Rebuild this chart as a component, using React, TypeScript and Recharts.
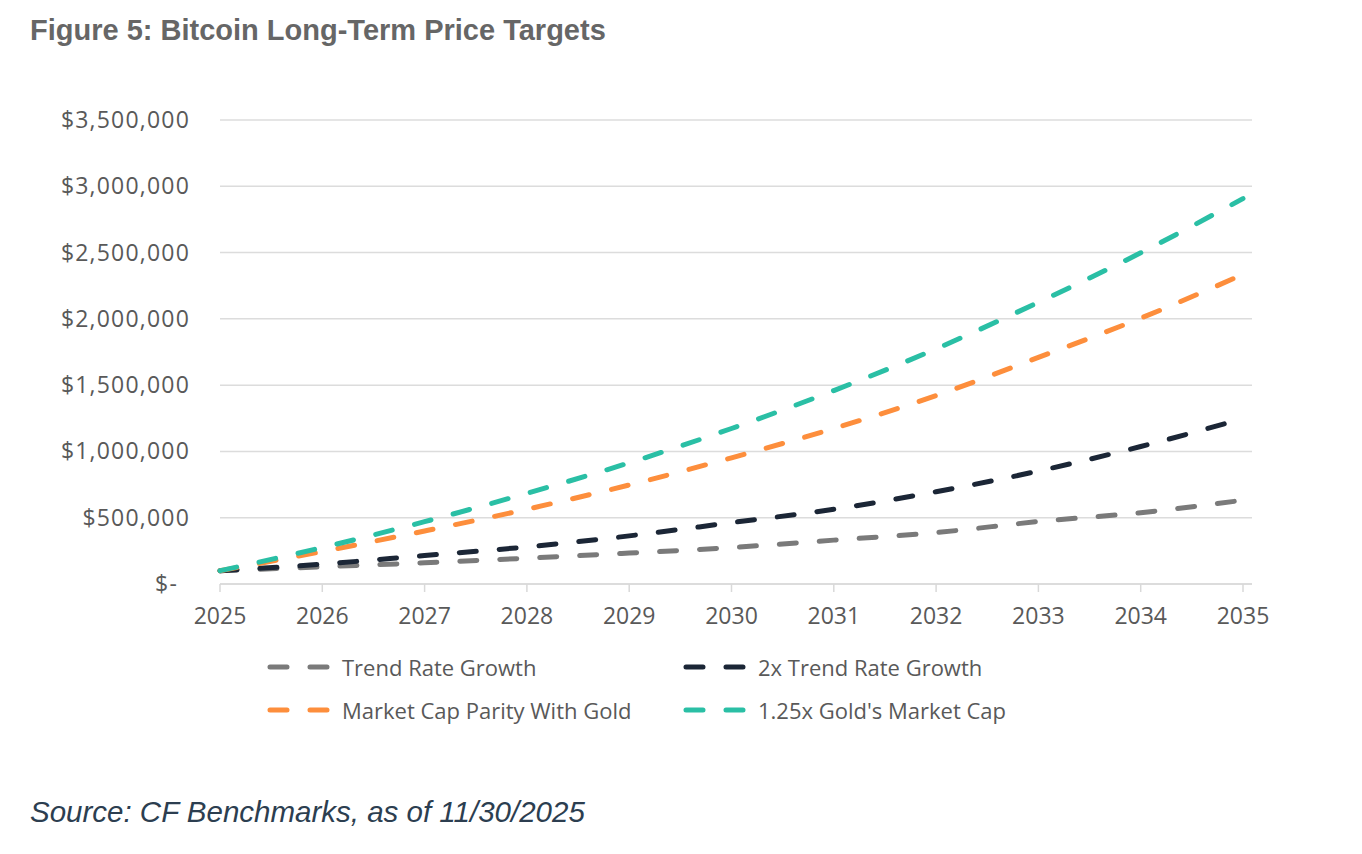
import { LineChart, Line, XAxis, YAxis, CartesianGrid } from "recharts";

const years = [2025, 2026, 2027, 2028, 2029, 2030, 2031, 2032, 2033, 2034, 2035];
const trendRate = [100000, 130000, 160000, 195000, 233000, 275000, 331000, 388000, 471000, 538000, 632000];
const trendRate2x = [100000, 150000, 215000, 280000, 363000, 463000, 564000, 696000, 852000, 1037000, 1248000];
const goldParity = [100000, 245000, 400000, 564000, 747000, 952000, 1173000, 1421000, 1709000, 2005000, 2335000];
const gold125 = [100000, 275000, 470000, 684000, 914000, 1173000, 1459000, 1774000, 2125000, 2498000, 2907000];
const yTicks = [0, 500000, 1000000, 1500000, 2000000, 2500000, 3000000, 3500000];

const series = [
  { key: "trend", name: "Trend Rate Growth", color: "#7a7a7a" },
  { key: "trend2x", name: "2x Trend Rate Growth", color: "#1b2636" },
  { key: "parity", name: "Market Cap Parity With Gold", color: "#fd8e3c" },
  { key: "gold125", name: "1.25x Gold's Market Cap", color: "#2abfa5" },
];

const data = years.map((year, i) => ({
  year,
  trend: trendRate[i],
  trend2x: trendRate2x[i],
  parity: goldParity[i],
  gold125: gold125[i],
}));

const font = "'Open Sans', sans-serif";

// y labels are right aligned at a fixed x; the "$-" zero label sits a bit further left
const YTick = (props: any) => {
  const { y, payload } = props;
  const v = payload.value;
  const label = v === 0 ? "$-" : "$" + v.toLocaleString("en-US");
  return (
    <text
      x={v === 0 ? 178 : 190}
      y={y}
      dy="0.35em"
      textAnchor="end"
      fill="#595959"
      fontSize={23}
      letterSpacing={1.2}
      fontFamily={font}
    >
      {label}
    </text>
  );
};

const LegendItem = ({ name, color, left, top }: any) => (
  <div style={{ position: "absolute", left, top, display: "flex", alignItems: "center", height: 30 }}>
    <svg width={66} height={10} style={{ display: "block" }}>
      <line x1={3} y1={5} x2={62} y2={5} stroke={color} strokeWidth={5} strokeLinecap="round" strokeDasharray="17 23" />
    </svg>
    <span style={{ marginLeft: 9, fontFamily: font, fontSize: 22, color: "#595959", whiteSpace: "nowrap" }}>{name}</span>
  </div>
);

export default function App() {
  return (
    <div style={{ position: "absolute", left: 0, top: 0, width: 1362, height: 854, background: "#fff" }}>
      <div
        style={{
          position: "absolute",
          left: 30,
          top: 14,
          fontFamily: "'Liberation Sans', Arial, sans-serif",
          fontWeight: "bold",
          fontSize: 29,
          color: "#666666",
          whiteSpace: "nowrap",
        }}
      >
        Figure 5: Bitcoin Long-Term Price Targets
      </div>
      <div style={{ position: "absolute", left: 0, top: 0 }}>
        <LineChart width={1300} height={640} data={data} margin={{ top: 120, right: 48, left: 0, bottom: 16 }}>
          <CartesianGrid horizontal vertical={false} stroke="#dcdcdc" strokeWidth={1.5} />
          <XAxis
            dataKey="year"
            type="number"
            domain={[2025, 2035]}
            ticks={years}
            padding={{ left: 0, right: 9 }}
            stroke="#d9d9d9"
            strokeWidth={1.5}
            tickSize={8}
            tickMargin={16}
            height={40}
            tick={{ fill: "#595959", fontSize: 23, fontFamily: font }}
          />
          <YAxis
            domain={[0, 3500000]}
            ticks={yTicks}
            width={220}
            axisLine={false}
            tickLine={false}
            tick={<YTick />}
          />
          {series.map((s) => (
            <Line
              key={s.key}
              type="monotone"
              dataKey={s.key}
              name={s.name}
              stroke={s.color}
              strokeWidth={5}
              strokeLinecap="round"
              strokeDasharray="17 23"
              dot={false}
              isAnimationActive={false}
            />
          ))}
        </LineChart>
      </div>
      <LegendItem name={series[0].name} color={series[0].color} left={267} top={652} />
      <LegendItem name={series[1].name} color={series[1].color} left={683} top={652} />
      <LegendItem name={series[2].name} color={series[2].color} left={267} top={695} />
      <LegendItem name={series[3].name} color={series[3].color} left={683} top={695} />
      <div
        style={{
          position: "absolute",
          left: 30,
          top: 795,
          fontFamily: "'Liberation Sans', Arial, sans-serif",
          fontStyle: "italic",
          fontSize: 29.5,
          color: "#2c3e50",
          whiteSpace: "nowrap",
        }}
      >
        Source: CF Benchmarks, as of 11/30/2025
      </div>
    </div>
  );
}
